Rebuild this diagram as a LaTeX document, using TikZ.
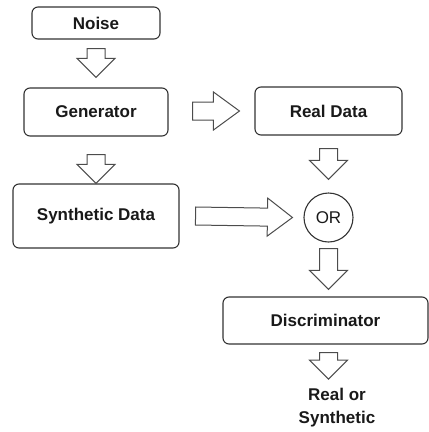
\documentclass[tikz,border=0pt]{standalone}
\usepackage{fontspec}
\setmainfont{Liberation Sans}
\usetikzlibrary{calc,shapes.arrows}

\tikzset{
  box/.style={draw=black!80, line width=1.1pt, rounded corners=6pt, text=black!90,
    font=\bfseries\fontsize{17}{20}\selectfont},
  bigarrow/.style={draw=black!70, line width=1pt, to path={
    let \p1=(\tikztostart), \p2=(\tikztotarget), \p3=($(\p2)!#1!(\p1)$) in
    ($(\p1)!9pt!90:(\p2)$) -- ($(\p3)!9pt!-90:(\p1)$) -- ($(\p3)!19pt!-90:(\p1)$)
    -- (\p2) -- ($(\p3)!19pt!90:(\p1)$) -- ($(\p3)!9pt!90:(\p1)$)
    -- ($(\p1)!9pt!-90:(\p2)$) -- cycle}},
  bigarrow/.default=19pt
}

\begin{document}
\begin{tikzpicture}[x=1pt, y=-1pt]
\useasboundingbox (0,0) rectangle (429,432);

\node[box, minimum width=128, minimum height=32] at (96,23) (noise) {Noise};
\node[box, minimum width=144, minimum height=48] at (96,112) (gen) {Generator};
\node[box, minimum width=166, minimum height=64] at (96,216) (synth) {Synthetic Data};
\node[box, minimum width=147, minimum height=48] at (328.5,111) (real) {Real Data};
\node[box, circle, rounded corners=0pt, minimum size=49, inner sep=0pt,
  font=\fontsize{17}{20}\selectfont] at (328.5,217.5) (or) {OR};
\node[box, minimum width=205, minimum height=47] at (325.5,320.5) (disc) {Discriminator};
\node[align=center, text=black!90, font=\bfseries\fontsize{17}{23}\selectfont]
  at (337,408) (out) {Real or\\Synthetic};

\draw[bigarrow] ($(noise.south)+(0,9)$) to ($(gen.north)+(0,-10)$);
\draw[bigarrow] ($(gen.south)+(0,18)$) to (synth.north);
\draw[bigarrow=26pt] ($(gen.east)+(24,-1)$) to ($(real.west)+(-15,0)$);
\draw[bigarrow] ($(real.south)+(0,13)$) to ($(or.north)+(0,-13)$);
\draw[bigarrow=25pt] ($(synth.east)+(16,0)$) to ($(or.west)+(-11,0)$);
\draw[bigarrow] ($(or.south)+(0,6)$) to ($(or.south |- disc.north)+(0,-7)$);
\draw[bigarrow] ($(or |- disc.south)+(0,8)$) to ($(or |- out.north)+(0,-6)$);

\end{tikzpicture}
\end{document}
